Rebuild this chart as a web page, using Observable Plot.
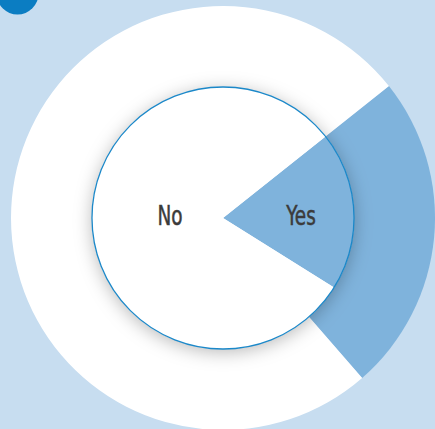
<!DOCTYPE html>
<html>
<head>
<meta charset="utf-8">
<script src="https://cdn.jsdelivr.net/npm/d3@7"></script>
<script src="https://cdn.jsdelivr.net/npm/@observablehq/plot@0.6"></script>
<style>
  html, body { margin: 0; padding: 0; background: #c7ddf0; width: 435px; height: 429px; overflow: hidden; }
  #chart svg { display: block; }
</style>
</head>
<body>
<div id="chart"></div>
<script>
// Data
const categories = ["Yes", "No"];
const innerValues = [19.6, 80.4];   // inner disc
const outerValues = [24.3, 75.7];   // outer ring
const colors = ["#7fb3dc", "#ffffff"];

const W = 435, H = 429;
const OUTER = 1, INNER = 0.618;
const START = 51.5 * Math.PI / 180;

function makeArcs(vals) {
  const rows = categories.map((c, i) => ({category: c, value: vals[i], color: colors[i]}));
  return d3.pie().sort(null).value(d => d.value).startAngle(START).endAngle(START + 2 * Math.PI)(rows);
}
const innerArcs = makeArcs(innerValues);
const outerArcs = makeArcs(outerValues);

function pieMark(arcs, radius) {
  return (index, scales) => {
    const cx = scales.x(0), cy = scales.y(0);
    const rpx = Math.abs(scales.x(radius) - scales.x(0));
    const g = d3.create("svg:g").attr("transform", `translate(${cx},${cy})`);
    const arc = d3.arc().innerRadius(0).outerRadius(rpx);
    g.selectAll("path").data(arcs).join("path")
      .attr("d", arc)
      .attr("fill", d => d.data.color)
      .attr("stroke", "none");
    return g.node();
  };
}

function circleMark(radius, {fill = "none", stroke = "none", strokeWidth = 1, shadow = false} = {}) {
  return (index, scales) => {
    const cx = scales.x(0), cy = scales.y(0);
    const rpx = Math.abs(scales.x(radius) - scales.x(0));
    const g = d3.create("svg:g");
    if (shadow) {
      const defs = g.append("defs");
      const f = defs.append("filter").attr("id", "innerShadow")
        .attr("x", "-30%").attr("y", "-30%").attr("width", "160%").attr("height", "160%");
      f.append("feDropShadow").attr("dx", 0).attr("dy", 3).attr("stdDeviation", 9)
        .attr("flood-color", "#000").attr("flood-opacity", 0.28);
    }
    g.append("circle").attr("cx", cx).attr("cy", cy).attr("r", rpx)
      .attr("fill", fill).attr("stroke", stroke).attr("stroke-width", strokeWidth)
      .attr("filter", shadow ? "url(#innerShadow)" : null);
    return g.node();
  };
}

const cxPx = 223, cyPx = 218, rPx = 212;
const labelOffsets = {"No": -0.25, "Yes": 0.368};

function labelMark() {
  return (index, scales) => {
    const g = d3.create("svg:g");
    g.selectAll("text").data(categories).join("text")
      .attr("transform", d => `translate(${scales.x(labelOffsets[d])},${scales.y(3 / rPx)}) scale(0.76,1)`)
      .attr("text-anchor", "middle")
      .attr("dy", "0.36em")
      .attr("fill", "#3b3b3b")
      .attr("stroke", "#3b3b3b")
      .attr("stroke-width", 0.5)
      .attr("font-family", "'Liberation Sans Narrow', 'DejaVu Sans Condensed', sans-serif")
      .attr("font-size", 27)
      .text(d => d);
    return g.node();
  };
}

const chart = Plot.plot({
  width: W,
  height: H,
  margin: 0,
  x: {domain: [-cxPx / rPx, (W - cxPx) / rPx], range: [0, W], axis: null},
  y: {domain: [(cyPx - H) / rPx, cyPx / rPx], range: [H, 0], axis: null},
  style: {background: "transparent", overflow: "visible"},
  marks: [
    Plot.dot([{x: -206 / rPx, y: 225 / rPx}], {x: "x", y: "y", r: 21, fill: "#0b7dc2", stroke: "none"}),
    pieMark(outerArcs, OUTER),
    circleMark(INNER, {fill: "#ffffff", shadow: true}),
    pieMark(innerArcs, INNER),
    circleMark(INNER, {stroke: "#1b88c9", strokeWidth: 1.3}),
    labelMark()
  ]
});

document.getElementById("chart").appendChild(chart);
</script>
</body>
</html>
